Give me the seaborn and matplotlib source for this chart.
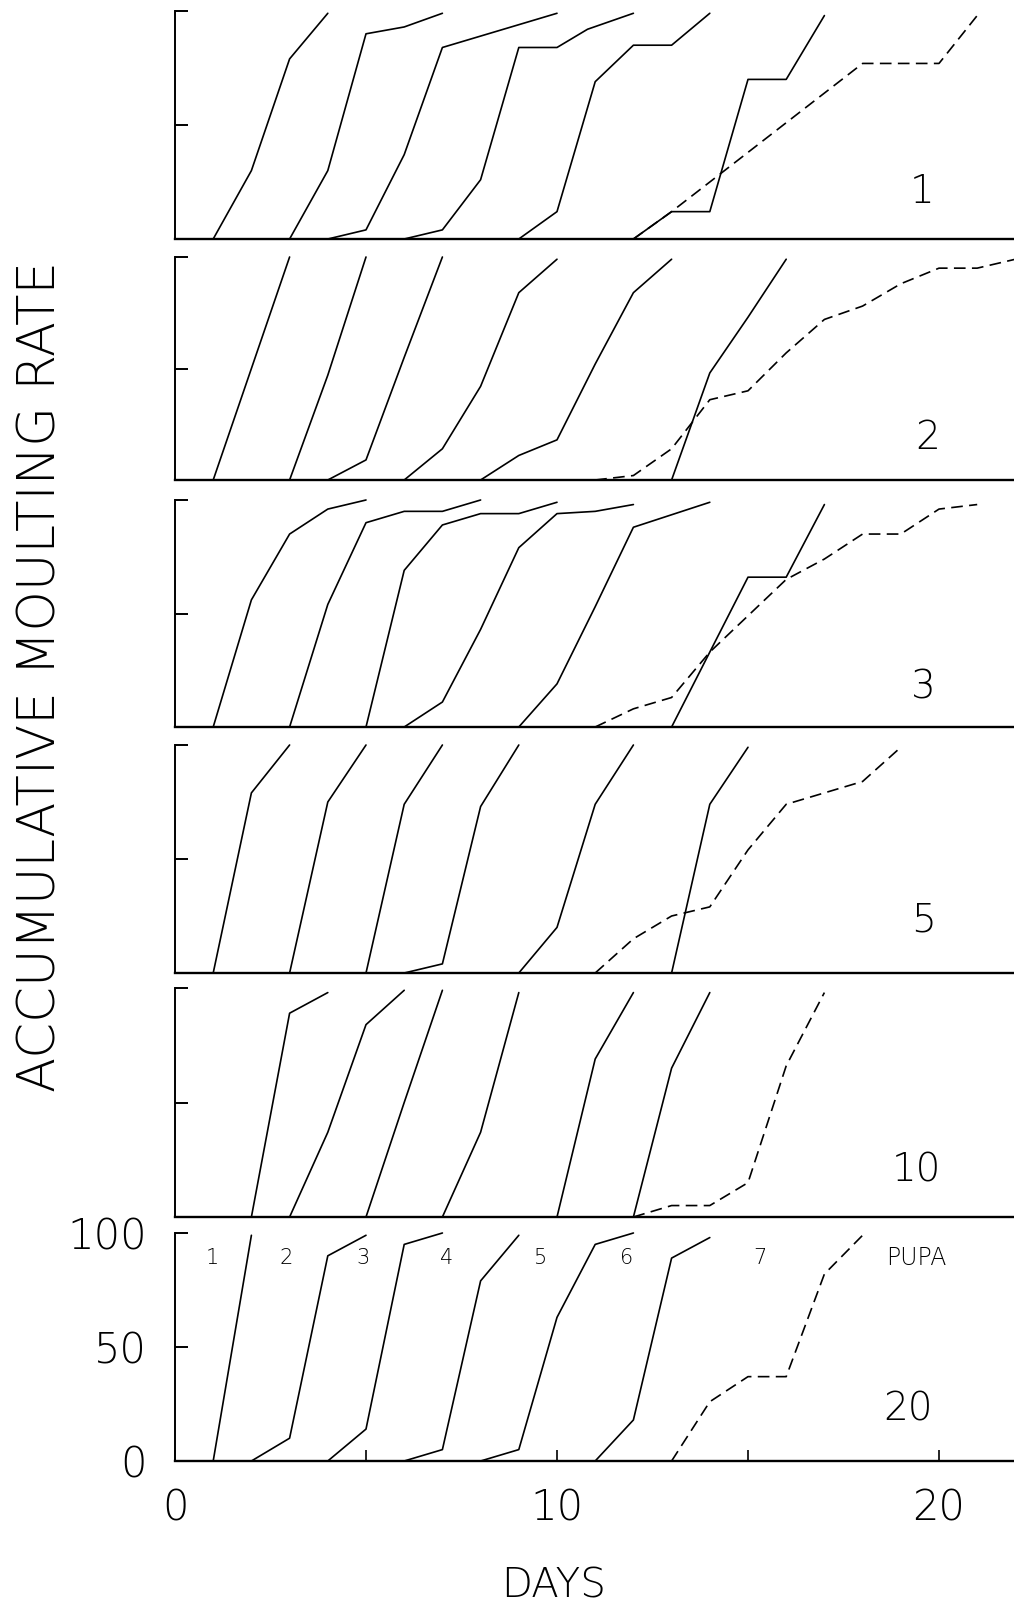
import matplotlib
matplotlib.use("Agg")
import matplotlib.pyplot as plt
import seaborn as sns
import pandas as pd

# ---------------- data (days, accumulative moulting rate %) ----------------
PANEL_LABELS = ["1", "2", "3", "5", "10", "20"]

P1_DAYS = [[1, 2, 3, 4], [3, 4, 5, 6, 7], [4, 5, 6, 7, 10],
           [6, 7, 8, 9, 10, 10.8, 12], [9, 10, 11, 12, 13, 14],
           [12, 13, 14, 15, 16, 17], [12, 13, 18, 20, 21]]
P1_RATE = [[0, 30, 79, 99], [0, 30, 90, 93, 99], [0, 4, 37, 84, 99],
           [0, 4, 26, 84, 84, 92, 99], [0, 12, 69, 85, 85, 99],
           [0, 12, 12, 70, 70, 98], [0, 12, 77, 77, 98]]

P2_DAYS = [[1, 2, 3], [3, 4, 5], [4, 5, 6, 7], [6, 7, 8, 9, 10],
           [8, 9, 10, 11, 12, 13], [13, 14, 15, 16],
           [11, 12, 13, 14, 15, 16, 17, 18, 19, 20, 21, 22]]
P2_RATE = [[0, 50, 100], [0, 47, 100], [0, 9, 55, 100], [0, 14, 42, 84, 99],
           [0, 11, 18, 52, 84, 99], [0, 48, 73, 99],
           [0, 2, 14, 36, 40, 57, 72, 78, 88, 95, 95, 99]]

P3_DAYS = [[1, 2, 3, 4, 5], [3, 4, 5, 6, 7, 8], [5, 6, 7, 8, 9, 10],
           [6, 7, 8, 9, 10, 11, 12], [9, 10, 11, 12, 14], [13, 15, 16, 17],
           [11, 12, 13, 14, 15, 16, 17, 18, 19, 20, 21]]
P3_RATE = [[0, 56, 85, 96, 100], [0, 54, 90, 95, 95, 100], [0, 69, 89, 94, 94, 99],
           [0, 11, 43, 79, 94, 95, 98], [0, 19, 53, 88, 99], [0, 66, 66, 98],
           [0, 8, 13, 33, 49, 65, 74, 85, 85, 96, 98]]

P4_DAYS = [[1, 2, 3], [3, 4, 5], [5, 6, 7], [6, 7, 8, 9], [9, 10, 11, 12],
           [13, 14, 15], [11, 12, 13, 14, 15, 16, 17, 18, 19]]
P4_RATE = [[0, 79, 100], [0, 75, 100], [0, 74, 100], [0, 4, 73, 100],
           [0, 20, 74, 100], [0, 74, 99], [0, 15, 25, 29, 54, 74, 79, 84, 99]]

P5_DAYS = [[2, 3, 4], [3, 4, 5, 6], [5, 6, 7], [7, 8, 9], [10, 11, 12],
           [12, 13, 14], [12, 13, 14, 15, 16, 17]]
P5_RATE = [[0, 89, 98], [0, 37, 84, 99], [0, 50, 99], [0, 37, 98], [0, 69, 98],
           [0, 65, 98], [0, 5, 5, 15, 66, 98]]

P6_DAYS = [[1, 2], [2, 3, 4, 5], [4, 5, 6, 7], [6, 7, 8, 9], [8, 9, 10, 11, 12],
           [11, 12, 13, 14], [13, 14, 15, 16, 17, 18]]
P6_RATE = [[0, 99], [0, 10, 90, 99], [0, 14, 95, 100], [0, 5, 79, 99],
           [0, 5, 63, 95, 100], [0, 18, 89, 98], [0, 26, 37, 37, 82, 99]]

SERIES = ["1", "2", "3", "4", "5", "6", "PUPA"]
STAGE_LABELS = ["1", "2", "3", "4", "5", "6", "7", "PUPA"]
Y_TICKS = [0, 50, 100]
X_TICK_LABELS = [0, 10, 20]
X_MINOR = [5, 15]

ALL_DAYS = [P1_DAYS, P2_DAYS, P3_DAYS, P4_DAYS, P5_DAYS, P6_DAYS]
ALL_RATE = [P1_RATE, P2_RATE, P3_RATE, P4_RATE, P5_RATE, P6_RATE]

# ---------------- layout ----------------
W, H = 1014, 1609
LEFT_PX = 175
PX_PER_DAY = 38.2
BASE_PX = [239, 480, 727, 973, 1217, 1461]
TOP_PX = [11, 257, 500, 745, 988, 1233]
LABEL_POS = [(19.55, 20.6), (19.7, 18.8), (19.6, 17.6), (19.6, 23.2), (19.4, 20.5), (19.2, 22.4)]
STAGE_X = [0.97, 2.9, 4.92, 7.12, 9.58, 11.83, 15.3, 19.4]
STAGE_Y = 89

sns.set_theme(style="ticks")
plt.rcParams['font.family'] = ['DejaVu Sans']
plt.rcParams['font.weight'] = 200
plt.rcParams['text.color'] = 'black'

fig = plt.figure(figsize=(W / 100, H / 100), dpi=100)
fig.patch.set_facecolor("white")
xmax = (W - LEFT_PX) / PX_PER_DAY

for p in range(6):
    b, t = BASE_PX[p], TOP_PX[p]
    ax = fig.add_axes([LEFT_PX / W, 1 - b / H, (W - LEFT_PX) / W, (b - t) / H])
    ax.set_facecolor("none")
    for s, (xs, ys) in enumerate(zip(ALL_DAYS[p], ALL_RATE[p])):
        df = pd.DataFrame({"day": xs, "rate": ys})
        pupa = SERIES[s] == "PUPA"
        sns.lineplot(data=df, x="day", y="rate", ax=ax, color="black",
                     linewidth=1.2, estimator=None, errorbar=None, sort=False,
                     legend=False, clip_on=False,
                     linestyle=(0, (7, 3.8)) if pupa else "-")
    ax.set_xlim(0, xmax)
    ax.set_ylim(0, 100)
    ax.set_xlabel("")
    ax.set_ylabel("")
    for side in ["top", "right"]:
        ax.spines[side].set_visible(False)
    ax.spines["left"].set_bounds(0, 100)
    ax.spines["left"].set_linewidth(1.4)
    ax.spines["left"].set_color("black")
    ax.spines["bottom"].set_linewidth(1.7)
    ax.spines["bottom"].set_color("black")
    ax.tick_params(axis="y", direction="in", length=9, width=1.4, color="black",
                   left=True, labelsize=30, pad=20, labelcolor="black")
    ax.tick_params(axis="x", which="both", direction="in", length=8, width=1.2,
                   color="black", bottom=True, labelsize=30, pad=19, labelcolor="black")
    lx, ly = LABEL_POS[p]
    ax.text(lx, ly, PANEL_LABELS[p], fontsize=28, ha="center", va="center",
            color="black")
    if p < 5:
        ax.set_yticks([50, 100])
        ax.set_yticklabels([])
        ax.set_xticks([])
    else:
        ax.set_yticks(Y_TICKS)
        ax.set_yticklabels([str(v) for v in Y_TICKS])
        ax.set_xticks(X_TICK_LABELS)
        ax.set_xticklabels([str(v) for v in X_TICK_LABELS])
        ax.set_xticks(X_MINOR, minor=True)
        for k, lab in enumerate(STAGE_LABELS):
            ax.text(STAGE_X[k], STAGE_Y, lab, ha="center", va="center",
                    color="black", fontsize=17 if lab == "PUPA" else 15)

fig.text(41 / W, 1 - 677 / H, "ACCUMULATIVE MOULTING RATE", rotation=90,
         ha="center", va="center", fontsize=37, color="black")
fig.text(554 / W, 1 - 1586 / H, "DAYS", ha="center", va="center", fontsize=29,
         color="black")

fig.savefig("out.png", dpi=100, facecolor="white")
